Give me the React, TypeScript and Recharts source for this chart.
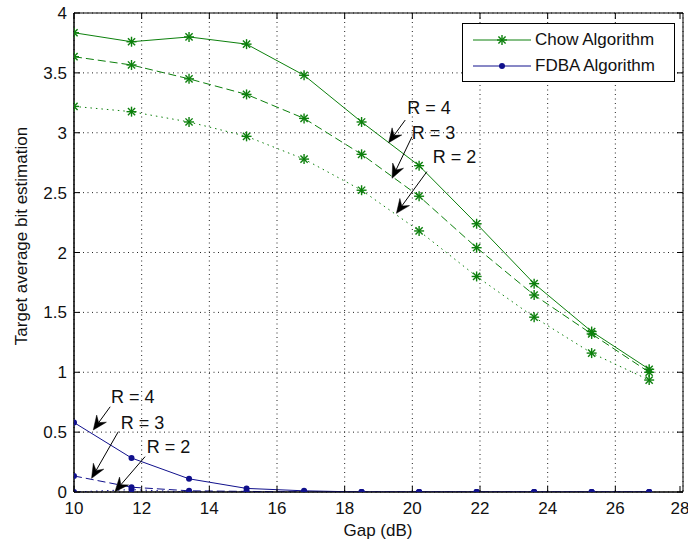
import {
  Legend,
  Line,
  LineChart,
  CartesianGrid,
  ReferenceArea,
  ReferenceDot,
  ReferenceLine,
  XAxis,
  YAxis,
} from "recharts";

// gap values (dB) where the curves were sampled
const gap = [10, 11.7, 13.4, 15.1, 16.8, 18.5, 20.2, 21.9, 23.6, 25.3, 27.0];

// Chow algorithm, R = 4 / 3 / 2
const chowR4 = [3.835, 3.76, 3.8, 3.74, 3.48, 3.09, 2.725, 2.24, 1.74, 1.34, 1.025];
const chowR3 = [3.635, 3.566, 3.45, 3.32, 3.12, 2.82, 2.47, 2.04, 1.645, 1.32, 1.0];
const chowR2 = [3.22, 3.176, 3.09, 2.97, 2.78, 2.52, 2.18, 1.8, 1.46, 1.16, 0.935];

// FDBA algorithm, R = 4 / 3 / 2
const fdbaR4 = [0.58, 0.284, 0.11, 0.03, 0.01, 0, 0, 0, 0, 0, 0];
const fdbaR3 = [0.134, 0.04, 0.01, 0.005, 0, 0, 0, 0, 0, 0, 0];
const fdbaR2 = [0, 0.02, 0, 0, 0, 0, 0, 0, 0, 0, 0];

const xTicks = [10, 12, 14, 16, 18, 20, 22, 24, 26, 28];
const yTicks = [0, 0.5, 1, 1.5, 2, 2.5, 3, 3.5, 4];

// annotation arrows: text anchor, arrow start, arrow tip (data coords)
const notes = [
  { text: "R = 4", at: [19.85, 3.157], from: [19.79, 3.106], to: [19.3, 2.917] },
  { text: "R = 3", at: [19.98, 2.945], from: [19.99, 2.967], to: [19.4, 2.62] },
  { text: "R = 2", at: [20.6, 2.745], from: [20.43, 2.675], to: [19.53, 2.327] },
  { text: "R = 4", at: [11.09, 0.741], from: [11.07, 0.712], to: [10.57, 0.518] },
  { text: "R = 3", at: [11.38, 0.526], from: [11.31, 0.504], to: [10.52, 0.114] },
  { text: "R = 2", at: [12.15, 0.328], from: [12.1, 0.295], to: [11.21, 0.003] },
];

const data = gap.map((g, i) => ({
  gap: g,
  chowR4: chowR4[i],
  chowR3: chowR3[i],
  chowR2: chowR2[i],
  fdbaR4: fdbaR4[i],
  fdbaR3: fdbaR3[i],
  fdbaR2: fdbaR2[i],
}));

const W = 688;
const H = 544;
const margin = { top: 13, right: 5, left: 24, bottom: 22 };
const PLOT_TOP = margin.top;
const PLOT_BOTTOM = H - margin.bottom - 30;
const PLOT_LEFT = margin.left + 50;
const PLOT_RIGHT = W - margin.right;

const GREEN = "#0c800c";
const BLUE = "#10108c";
const FONT = "'Liberation Sans', Arial, sans-serif";

const Asterisk = (props: any) => {
  const { cx, cy, key } = props;
  if (cx == null || cy == null) return <g key={key} />;
  const r = 5;
  const d = r * 0.72;
  return (
    <g key={key} stroke={GREEN} strokeWidth={1.4}>
      <line x1={cx - r} y1={cy} x2={cx + r} y2={cy} />
      <line x1={cx} y1={cy - r} x2={cx} y2={cy + r} />
      <line x1={cx - d} y1={cy - d} x2={cx + d} y2={cy + d} />
      <line x1={cx - d} y1={cy + d} x2={cx + d} y2={cy - d} />
    </g>
  );
};

const BlueDot = (props: any) => {
  const { cx, cy, key } = props;
  if (cx == null || cy == null) return <g key={key} />;
  return <circle key={key} cx={cx} cy={cy} r={3} fill={BLUE} stroke="none" />;
};

const XTick = ({ x, y, payload }: any) => (
  <g>
    <text x={x} y={y} dy="0.71em" textAnchor="middle" fontSize={17} fill="#111" fontFamily={FONT}>
      {payload.value}
    </text>
    <line x1={x} x2={x} y1={PLOT_BOTTOM} y2={PLOT_BOTTOM - 6} stroke="#000" />
    <line x1={x} x2={x} y1={PLOT_TOP} y2={PLOT_TOP + 6} stroke="#000" />
  </g>
);

const YTick = ({ x, y, payload }: any) => (
  <g>
    <text x={x} y={y} dy="0.355em" textAnchor="end" fontSize={17} fill="#111" fontFamily={FONT}>
      {payload.value}
    </text>
    <line x1={PLOT_LEFT} x2={PLOT_LEFT + 6} y1={y} y2={y} stroke="#000" />
    <line x1={PLOT_RIGHT} x2={PLOT_RIGHT - 6} y1={y} y2={y} stroke="#000" />
  </g>
);

const Arrow = (props: any) => {
  const { x1, y1, x2, y2 } = props;
  const dx = x2 - x1;
  const dy = y2 - y1;
  const len = Math.sqrt(dx * dx + dy * dy) || 1;
  const ux = dx / len;
  const uy = dy / len;
  const px = -uy;
  const py = ux;
  const hl = 14;
  const hw = 6;
  const bx = x2 - ux * hl;
  const by = y2 - uy * hl;
  const nx = x2 - ux * hl * 0.65;
  const ny = y2 - uy * hl * 0.65;
  const pts = `${x2},${y2} ${bx + px * hw},${by + py * hw} ${nx},${ny} ${bx - px * hw},${by - py * hw}`;
  return (
    <g>
      <line x1={x1} y1={y1} x2={nx} y2={ny} stroke="#000" strokeWidth={1} />
      <polygon points={pts} fill="#000" stroke="#000" strokeWidth={0.5} />
    </g>
  );
};

const NoteText = (label: string) => (props: any) => (
  <text x={props.cx} y={props.cy} fontSize={18} fill="#111" fontFamily={FONT}>
    {label}
  </text>
);

const LegendBox = () => (
  <div
    style={{
      width: 213,
      height: 59,
      boxSizing: "border-box",
      border: "1px solid #000",
      background: "#fff",
      fontFamily: FONT,
      fontSize: 17,
      color: "#111",
      position: "relative",
    }}
  >
    {[
      { name: "Chow Algorithm", color: GREEN, star: true, y: 16 },
      { name: "FDBA Algorithm", color: BLUE, star: false, y: 42 },
    ].map((item) => (
      <div key={item.name} style={{ position: "absolute", left: 0, top: item.y - 12, height: 24, width: 211 }}>
        <svg width={70} height={24} style={{ position: "absolute", left: 0, top: 0 }}>
          <line x1={10} x2={68} y1={12} y2={12} stroke={item.color} strokeWidth={1} />
          {item.star ? Asterisk({ cx: 39, cy: 12, key: "s" }) : BlueDot({ cx: 39, cy: 12, key: "d" })}
        </svg>
        <span style={{ position: "absolute", left: 72, top: 2, lineHeight: "20px", whiteSpace: "nowrap" }}>
          {item.name}
        </span>
      </div>
    ))}
  </div>
);

export default function App() {
  return (
    <div style={{ position: "absolute", left: 0, top: 0, width: W, height: H, background: "#fff" }}>
      <LineChart width={W} height={H} data={data} margin={margin}>
        <CartesianGrid stroke="#222" strokeDasharray="1 3.5" ticks={undefined} />
        <XAxis
          dataKey="gap"
          type="number"
          domain={[10, 28]}
          ticks={xTicks}
          allowDataOverflow
          height={30}
          tickSize={0}
          tickMargin={10}
          tick={<XTick />}
          stroke="#000"
          label={{
            content: () => (
              <text x={378} y={536} textAnchor="middle" fontSize={17} fill="#111" fontFamily={FONT}>
                Gap (dB)
              </text>
            ),
          }}
        />
        <YAxis
          type="number"
          domain={[0, 4]}
          ticks={yTicks}
          allowDataOverflow
          width={50}
          tickSize={0}
          tickMargin={7}
          tick={<YTick />}
          stroke="#000"
          label={{
            content: () => (
              <text
                x={27}
                y={236}
                transform="rotate(-90 27 236)"
                textAnchor="middle"
                fontSize={17}
                fill="#111"
                fontFamily={FONT}
              >
                Target average bit estimation
              </text>
            ),
          }}
        />
        <ReferenceArea x1={10} x2={28} y1={0} y2={4} fill="none" stroke="#000" strokeWidth={1} />
        <Line dataKey="chowR4" stroke={GREEN} strokeWidth={1} dot={Asterisk} activeDot={false} isAnimationActive={false} legendType="none" />
        <Line dataKey="chowR3" stroke={GREEN} strokeWidth={1} strokeDasharray="8 4" dot={Asterisk} activeDot={false} isAnimationActive={false} legendType="none" />
        <Line dataKey="chowR2" stroke={GREEN} strokeWidth={1} strokeDasharray="1.5 4" dot={Asterisk} activeDot={false} isAnimationActive={false} legendType="none" />
        <Line dataKey="fdbaR4" stroke={BLUE} strokeWidth={1} dot={BlueDot} activeDot={false} isAnimationActive={false} legendType="none" />
        <Line dataKey="fdbaR3" stroke={BLUE} strokeWidth={1} strokeDasharray="8 4" dot={BlueDot} activeDot={false} isAnimationActive={false} legendType="none" />
        <Line dataKey="fdbaR2" stroke={BLUE} strokeWidth={1} strokeDasharray="1.5 4" dot={BlueDot} activeDot={false} isAnimationActive={false} legendType="none" />
        {notes.map((n, i) => (
          <ReferenceLine
            key={`arrow-${i}`}
            segment={[
              { x: n.from[0], y: n.from[1] },
              { x: n.to[0], y: n.to[1] },
            ]}
            shape={Arrow}
          />
        ))}
        {notes.map((n, i) => (
          <ReferenceDot key={`note-${i}`} x={n.at[0]} y={n.at[1]} r={0} shape={NoteText(n.text)} />
        ))}
        <Legend
          layout="horizontal"
          verticalAlign="middle"
          align="center"
          content={<LegendBox />}
          wrapperStyle={{ position: "absolute", left: 462, top: 23, width: 213, height: 59 }}
        />
      </LineChart>
    </div>
  );
}
